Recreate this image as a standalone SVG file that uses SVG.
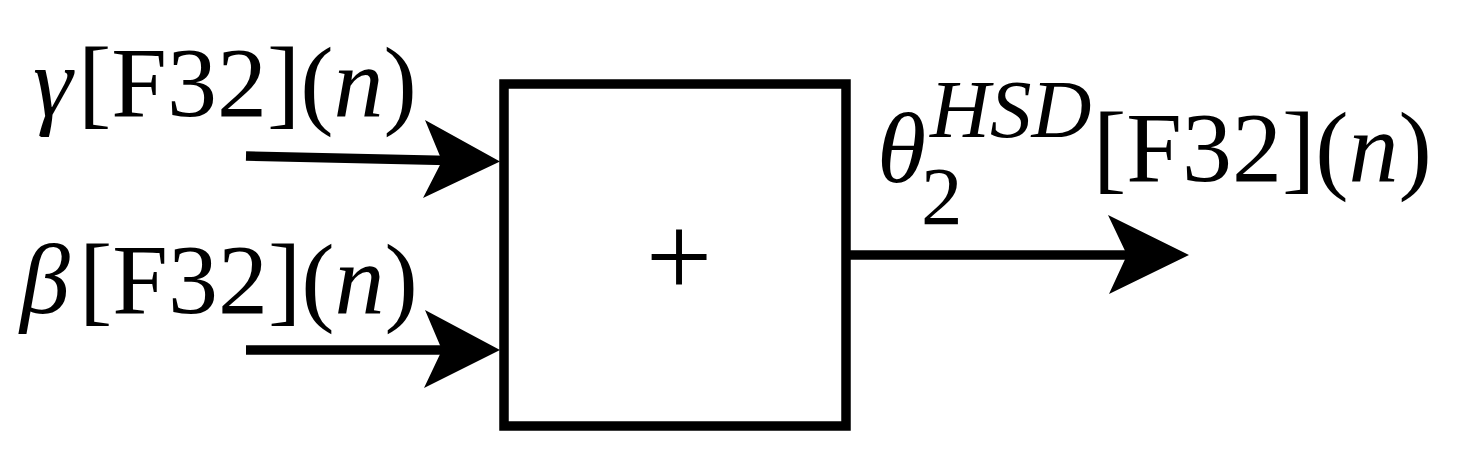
<svg xmlns="http://www.w3.org/2000/svg" width="1461" height="466" viewBox="0 0 1461 466">
<style>
text{font-family:"Liberation Serif","Times New Roman",serif;fill:#000}
.lab{font-size:100px}
.sm{font-size:83px}
.it{font-style:italic}
.wire{stroke:#000;stroke-width:9.5;fill:none}
.head{fill:#000;stroke:none}
.box{fill:#fff;stroke:#000;stroke-width:9.5}
</style>
<rect width="1461" height="466" fill="#fff"/>
<g id="connectors">
<line class="wire" x1="246" y1="156" x2="448" y2="160.5"/>
<polygon class="head" points="500,161.5 425,120 442,161 423,198"/>
<line class="wire" x1="246" y1="350" x2="448" y2="350"/>
<polygon class="head" points="500,350 425,310 442,350 424,388"/>
<line class="wire" x1="846" y1="255" x2="1135" y2="255"/>
<polygon class="head" points="1189,255 1108,215 1127,255 1109,294"/>
</g>
<g id="sum">
<rect class="box" x="504" y="84" width="342" height="342"/>
<text class="lab" x="679" y="297" text-anchor="middle" style="font-size:118px">+</text>
</g>
<g id="in-gamma">
<text class="lab" y="116"><tspan class="it" x="33">γ</tspan><tspan x="78">[F32](</tspan><tspan class="it">n</tspan><tspan>)</tspan></text>
</g>
<g id="in-beta">
<text class="lab" y="313"><tspan class="it" x="20">β</tspan><tspan x="79">[F32](</tspan><tspan class="it">n</tspan><tspan>)</tspan></text>
</g>
<g id="out-theta">
<text class="lab it" x="877" y="182">θ</text>
<text class="sm it" x="930" y="137">HSD</text>
<text class="sm" x="921" y="224">2</text>
<text class="lab" y="181"><tspan x="1093">[F32](</tspan><tspan class="it">n</tspan><tspan>)</tspan></text>
</g>
</svg>
